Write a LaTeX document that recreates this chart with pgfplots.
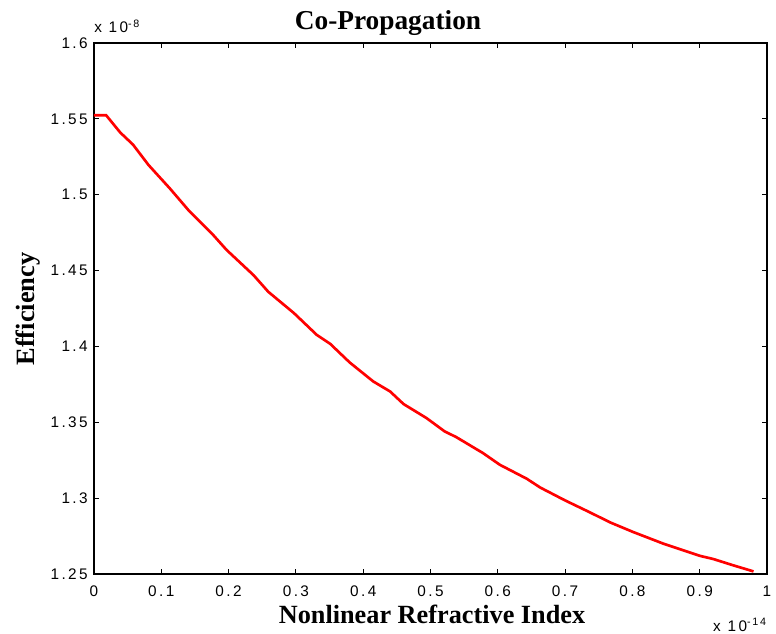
\documentclass[border=0pt]{standalone}
\usepackage{pgfplots}
\pgfplotsset{compat=1.18}
\usepackage{fontspec}
\setmainfont{Liberation Sans}[LetterSpace=16]
\newfontfamily\timesfont{Liberation Serif}
\begin{document}
\begin{tikzpicture}
\begin{axis}[
  at={(0,0)}, anchor=south west,
  scale only axis, width=504.75pt, height=398.25pt,
  xmin=0, xmax=1, ymin=1.25, ymax=1.6,
  xtick={0,0.1,...,1}, ytick={1.25,1.3,...,1.61},
  xticklabels={0,0.1,0.2,0.3,0.4,0.5,0.6,0.7,0.8,0.9,1},
  yticklabels={1.25,1.3,1.35,1.4,1.45,1.5,1.55,1.6},
  tick align=inside, major tick length=4pt,
  every tick/.style={black, line width=0.6pt},
  axis line style={line width=0.8pt},
  tick label style={font=\fontsize{11.5}{13}\selectfont, inner sep=0pt},
  yticklabel style={anchor=east, xshift=-4.5pt},
  xticklabel style={anchor=north, yshift=-8.5pt},
  /pgf/number format/assume math mode=true,
  clip=false,
  xlabel={\timesfont\bfseries Nonlinear Refractive Index},
  xlabel style={at={(253.5pt,-36.75pt)}, anchor=base, inner sep=0pt, font=\fontsize{19.7}{22}\selectfont},
  ylabel={\timesfont\bfseries Efficiency},
  ylabel style={at={(-44.25pt,198.75pt)}, anchor=base, rotate=0, inner sep=0pt, font=\fontsize{19.8}{22}\selectfont},
]
\addplot[red, line width=2pt] coordinates {
(0,1.5524) (0.018,1.5524) (0.039,1.541) (0.058,1.533) (0.081,1.5196)
(0.113,1.504) (0.140,1.490) (0.177,1.4735) (0.197,1.4636) (0.237,1.447)
(0.259,1.436) (0.297,1.422) (0.331,1.4076) (0.351,1.4017) (0.380,1.3894)
(0.415,1.3769) (0.440,1.3703) (0.460,1.362) (0.494,1.3528) (0.521,1.344)
(0.538,1.3403) (0.578,1.3297) (0.603,1.322) (0.643,1.3128) (0.663,1.307)
(0.700,1.2985) (0.737,1.2906) (0.767,1.284) (0.801,1.2777) (0.846,1.270)
(0.900,1.262) (0.920,1.2599) (0.950,1.2557) (0.980,1.2517)
};
\end{axis}
\node[anchor=base, inner sep=0pt, font=\fontsize{20.5}{23}\selectfont] at (220.5pt,408.5pt) {\timesfont\bfseries Co-Propagation};
\node[anchor=base west, inner sep=0pt, font=\fontsize{11.5}{13}\selectfont] at (0pt,405.75pt) {x 10\textsuperscript{-8}};
\node[anchor=base east, inner sep=0pt, font=\fontsize{11.5}{13}\selectfont] at (504.75pt,-42.75pt) {x 10\textsuperscript{-14}};
\pgfresetboundingbox
\path[use as bounding box] (-70.5pt,-44.25pt) rectangle (511.5pt,430.5pt);
\end{tikzpicture}
\end{document}
